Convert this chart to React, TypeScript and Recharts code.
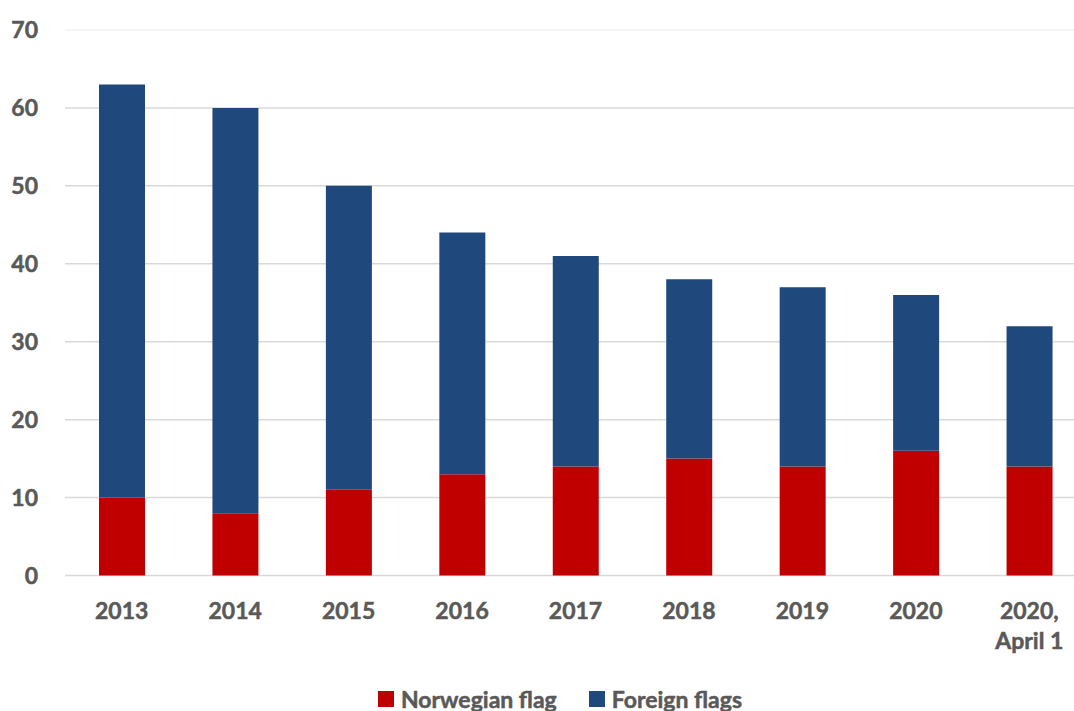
import { BarChart, Bar, XAxis, YAxis, CartesianGrid, Legend } from 'recharts';

const categories = ['2013', '2014', '2015', '2016', '2017', '2018', '2019', '2020', '2020,\nApril 1'];
const norwegianFlag = [10, 8, 11, 13, 14, 15, 14, 16, 14];
const foreignFlags = [53, 52, 39, 31, 27, 23, 23, 20, 18];
const yTicks = [0, 10, 20, 30, 40, 50, 60, 70];

const data = categories.map((c, i) => ({
  category: c,
  norwegian: norwegianFlag[i],
  foreign: foreignFlags[i],
}));

const FONT = 'Lato, "Open Sans", sans-serif';
const TEXT = '#595959';
const RED = '#C00000';
const BLUE = '#1F497D';

function XTick(props: any) {
  const { x, y, payload } = props;
  const lines = String(payload.value).split('\n');
  return (
    <text
      x={x}
      textAnchor="middle"
      fill={TEXT}
      stroke={TEXT}
      strokeWidth={0.5}
      fontFamily={FONT}
      fontWeight={700}
      fontSize={23}
    >
      {lines.map((l, i) => (
        <tspan key={i} x={x} y={y + 43 + i * 30}>
          {l}
        </tspan>
      ))}
    </text>
  );
}

function GridLine(props: any) {
  const { x1, x2, y1, y2 } = props;
  const top = y1 < 40;
  return (
    <line
      x1={x1}
      x2={x2}
      y1={y1}
      y2={y2}
      stroke={top ? '#F2F2F2' : '#D9D9D9'}
      strokeWidth={1.5}
    />
  );
}

function LegendContent() {
  const items = [
    { label: 'Norwegian flag', color: RED },
    { label: 'Foreign flags', color: BLUE },
  ];
  return (
    <div
      style={{
        display: 'flex',
        justifyContent: 'center',
        alignItems: 'center',
        height: 24,
        paddingLeft: 34,
        fontFamily: FONT,
        fontWeight: 700,
        fontSize: 23,
        lineHeight: '24px',
        color: TEXT,
        gap: 32,
        WebkitTextStroke: `0.5px ${TEXT}`,
      }}
    >
      {items.map((it) => (
        <div key={it.label} style={{ display: 'flex', alignItems: 'center', gap: 7 }}>
          <span style={{ width: 16, height: 16, background: it.color, display: 'inline-block' }} />
          <span>{it.label}</span>
        </div>
      ))}
    </div>
  );
}

export default function App() {
  return (
    <div
      style={{
        position: 'absolute',
        left: 0,
        top: 0,
        width: 1074,
        height: 711,
        overflow: 'hidden',
        background: '#fff',
      }}
    >
      <BarChart
        width={1090}
        height={711}
        data={data}
        margin={{ top: 30, right: 4, left: 0, bottom: 0 }}
      >
        <CartesianGrid vertical={false} horizontal={GridLine} />
        <XAxis
          dataKey="category"
          axisLine={false}
          tickLine={false}
          tickSize={0}
          tickMargin={0}
          interval={0}
          height={111.5}
          tick={<XTick />}
        />
        <YAxis
          domain={[0, 70]}
          ticks={yTicks}
          width={65}
          axisLine={false}
          tickLine={false}
          tickSize={0}
          tickMargin={27}
          tick={{ fill: TEXT, stroke: TEXT, strokeWidth: 0.5, fontFamily: FONT, fontWeight: 700, fontSize: 23 }}
        />
        <Legend
          verticalAlign="bottom"
          height={24}
          content={<LegendContent />}
          wrapperStyle={{ top: 687, bottom: 'auto', left: 0, width: 1086 }}
        />
        <Bar dataKey="norwegian" stackId="a" fill={RED} barSize={46} isAnimationActive={false} />
        <Bar dataKey="foreign" stackId="a" fill={BLUE} barSize={46} isAnimationActive={false} />
      </BarChart>
    </div>
  );
}
